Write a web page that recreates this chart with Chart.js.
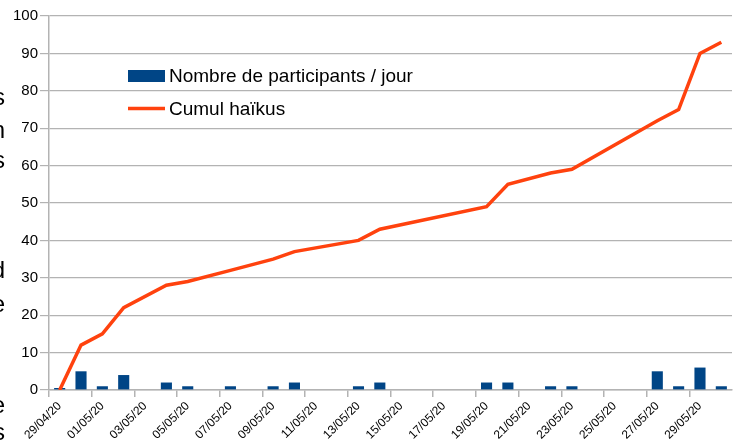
<!DOCTYPE html>
<html>
<head>
<meta charset="utf-8">
<script src="https://cdn.jsdelivr.net/npm/chart.js@4/dist/chart.umd.min.js"></script>
<style>
html,body{margin:0;padding:0;background:#fff;overflow:hidden;}
canvas{display:block;}
</style>
</head>
<body>
<canvas id="c" width="739" height="445"></canvas>
<script>
const dates = ["29/04/20","30/04/20","01/05/20","02/05/20","03/05/20","04/05/20","05/05/20","06/05/20",
  "07/05/20","08/05/20","09/05/20","10/05/20","11/05/20","12/05/20","13/05/20","14/05/20",
  "15/05/20","16/05/20","17/05/20","18/05/20","19/05/20","20/05/20","21/05/20","22/05/20",
  "23/05/20","24/05/20","25/05/20","26/05/20","27/05/20","28/05/20","29/05/20","30/05/20"];
const participants = [0,5,1,4,null,2,1,null,1,null,1,2,null,null,1,2,
  null,null,null,null,2,2,null,1,1,null,null,null,5,1,6,1];
const cumulHaikus = [0,12,15,22,null,28,29,null,32,null,35,37,null,null,40,43,
  null,null,null,null,49,55,null,58,59,null,null,null,72,75,90,93];
const yTicks = [0,10,20,30,40,50,60,70,80,90,100];
const seriesNames = ["Nombre de participants / jour","Cumul haïkus"];
const edgeLetters = ["s","n","s","d","e","e","s"];

const FONT = "'Liberation Sans', Arial, sans-serif";
const GRID = "#b3b3b3";

const legendPlugin = {
  id: "customLegend",
  afterDraw(chart) {
    const ctx = chart.ctx;
    ctx.save();
    const ds = chart.data.datasets;
    ctx.font = "19px " + FONT;
    ctx.fillStyle = "#000";
    ctx.textBaseline = "middle";
    ctx.textAlign = "left";
    // bar entry
    ctx.fillStyle = ds[0].backgroundColor;
    ctx.fillRect(128, 70, 37, 12);
    ctx.fillStyle = "#000";
    ctx.fillText(ds[0].label, 169, 76.5);
    // line entry
    ctx.strokeStyle = ds[1].borderColor;
    ctx.lineWidth = 3.5;
    ctx.beginPath();
    ctx.moveTo(128, 108.5);
    ctx.lineTo(165, 108.5);
    ctx.stroke();
    ctx.fillText(ds[1].label, 169, 109.5);
    // clipped letters at left edge
    ctx.font = "24px " + FONT;
    ctx.textAlign = "right";
    ctx.textBaseline = "alphabetic";
    const baselines = [105, 138, 168, 278, 312, 413, 440];
    edgeLetters.forEach((l, i) => ctx.fillText(l, 5, baselines[i]));
    ctx.restore();
  }
};

new Chart(document.getElementById("c"), {
  type: "bar",
  data: {
    labels: dates,
    datasets: [
      {
        type: "bar",
        label: seriesNames[0],
        data: participants,
        backgroundColor: "#004586",
        barPercentage: 0.52,
        categoryPercentage: 1,
        minBarLength: 2,
        order: 1
      },
      {
        type: "line",
        label: seriesNames[1],
        data: cumulHaikus,
        borderColor: "#ff420e",
        backgroundColor: "#ff420e",
        borderWidth: 3.5,
        pointRadius: 0,
        tension: 0,
        spanGaps: true,
        order: 0
      }
    ]
  },
  options: {
    responsive: false,
    animation: false,
    layout: { padding: { top: 16, right: 7, left: 0, bottom: 0 } },
    plugins: { legend: { display: false }, tooltip: { enabled: false } },
    scales: {
      x: {
        offset: true,
        afterFit(s) { s.height = 55; },
        grid: {
          offset: true,
          drawOnChartArea: false,
          drawTicks: true,
          tickLength: 7,
          color: (c) => (c.index % 2 === 0 ? GRID : "rgba(0,0,0,0)"),
          lineWidth: 1.5
        },
        border: { color: GRID, width: 1.5 },
        ticks: {
          autoSkip: false,
          maxRotation: 45,
          minRotation: 45,
          padding: 2,
          color: "#000",
          font: { family: FONT, size: 12 },
          callback: function (v, i) { return i % 2 === 0 ? this.getLabelForValue(v) : ""; }
        }
      },
      y: {
        min: 0,
        max: 100,
        afterFit(s) { s.width = 49; },
        afterBuildTicks(s) { s.ticks = yTicks.map(v => ({ value: v })); },
        grid: { color: GRID, tickLength: 9, lineWidth: 1.2 },
        border: { color: GRID, width: 1.5 },
        ticks: {
          padding: 2,
          color: "#000",
          font: { family: FONT, size: 15 }
        }
      }
    }
  },
  plugins: [legendPlugin]
});
</script>
</body>
</html>
